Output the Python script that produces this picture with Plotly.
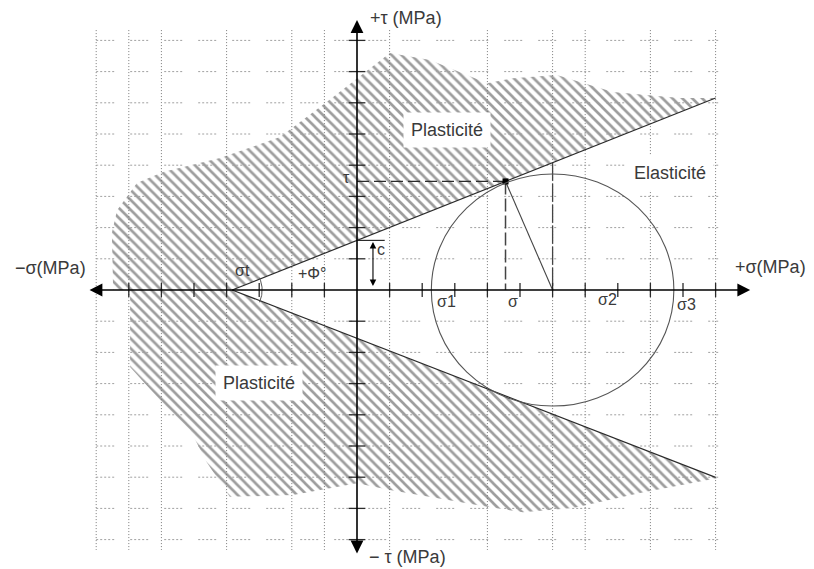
import numpy as np
import plotly.graph_objects as go

# ---------------- data (in diagram units: 1 unit = one tick) ----------------
sigma_t = -3.83          # tensile strength (intercept on sigma axis)
cohesion = 1.59          # c (intercept on tau axis)
slope_up = 0.415         # tan(phi) upper envelope
slope_dn = -0.405        # lower envelope
env_end = 11.0           # right end of envelope lines
circle_center = 6.0
circle_radius = 3.72

x_ticks = [-7, -6, -5, -4, -3, -2, -1, 1, 2, 3, 4, 5, 6, 7, 8, 9, 10, 11]
y_ticks = [-8, -7, -6, -5, -4, -3, -2, -1, 1, 2, 3, 4, 5, 6, 7, 8]
x_grid = [-8, -7, -6, -4, -2, -1, 1, 4, 6, 7, 9, 11]
y_grid = [-8, -7, -6, -5, -4, -3, -2, -1, 1, 2, 3, 4, 5, 6, 7, 8]

upper_x = [-7.48, -3.83, 10.98, 9.91, 7.85, 6.13, 4.79, 3.99, 2.24, 1.01, -0.92, -2.36, -4.20, -5.95, -6.75, -7.36, -7.52, -7.48]
upper_y = [0.0, 0.0, 6.15, 6.15, 6.35, 6.89, 6.79, 6.63, 7.37, 7.60, 6.03, 4.90, 4.23, 3.78, 3.43, 2.56, 1.83, 0.0]
lower_x = [-7.06, -3.83, 11.04, 8.68, 6.63, 5.09, 4.08, 1.01, 0.0, -1.96, -3.90, -4.60, -5.12, -6.04, -6.96, -6.96, -7.06]
lower_y = [0.0, 0.0, -6.03, -6.51, -6.99, -7.12, -6.96, -6.41, -6.19, -6.57, -6.63, -5.54, -4.49, -3.53, -2.47, -0.16, 0.0]

region_labels = ["Plasticité", "Plasticité", "Elasticité"]
region_lx = [2.76, -3.01, 9.60]
region_ly = [5.13, -2.98, 3.75]

sym_labels = ["σt", "+Φ°", "τ", "c", "σ1", "σ", "σ2", "σ3"]
sym_lx = [-3.50, -1.35, -0.33, 0.74, 2.76, 4.79, 7.67, 10.12]
sym_ly = [0.64, 0.52, 3.62, 1.31, -0.38, -0.38, -0.32, -0.45]

axis_labels = ["+τ (MPa)", "− τ (MPa)", "−σ(MPa)", "+σ(MPa)"]
axis_lx = [1.50, 1.56, -9.39, 12.68]
axis_ly = [8.72, -8.56, 0.71, 0.74]

# ---------------- scales ----------------
PXX, PXY = 32.6, 31.2          # px per unit
PAGE_MARGIN = 8                # default body margin of the page
X0, Y0 = 357 - PAGE_MARGIN, 290 - PAGE_MARGIN   # origin inside the figure
W, H = 814 - PAGE_MARGIN, 569 - PAGE_MARGIN
xr = [-X0 / PXX, (W - X0) / PXX]
yr = [(Y0 - H) / PXY, Y0 / PXY]

INK = "#2b2b2b"
TXT = "#3a3a3a"
FONT = "Arial, Liberation Sans, sans-serif"

fig = go.Figure()

# hatched regions
for xs, ys in [(upper_x, upper_y), (lower_x, lower_y)]:
    fig.add_trace(go.Scatter(
        x=xs, y=ys, mode="lines", fill="toself",
        line=dict(width=0, color="rgba(0,0,0,0)"),
        fillcolor="rgba(0,0,0,0)",
        fillpattern=dict(shape="\\", fgcolor="#3c3c3c", bgcolor="white",
                         size=7, solidity=0.38),
        hoverinfo="skip", showlegend=False))

# grid
for gx in x_grid:
    fig.add_trace(go.Scatter(x=[gx, gx], y=[8.33, -8.33], mode="lines",
                             line=dict(color="#7a7a7a", width=1, dash="1px,2px"),
                             hoverinfo="skip", showlegend=False))
for gy in y_grid:
    fig.add_trace(go.Scatter(x=[-8, 11.1], y=[gy, gy], mode="lines",
                             line=dict(color="#a0a0a0", width=1,
                                       dash="2px,2px,2px,2px,2px,2px,2px,2px,2px,16px"),
                             hoverinfo="skip", showlegend=False))

# Coulomb envelope lines
fig.add_trace(go.Scatter(x=[sigma_t, env_end], y=[0, slope_up * (env_end - sigma_t)],
                         mode="lines", line=dict(color=INK, width=1.2),
                         hoverinfo="skip", showlegend=False))
fig.add_trace(go.Scatter(x=[sigma_t, env_end], y=[0, slope_dn * (env_end - sigma_t)],
                         mode="lines", line=dict(color=INK, width=1.2),
                         hoverinfo="skip", showlegend=False))

# Mohr circle
fig.add_shape(type="circle", xref="x", yref="y",
              x0=circle_center - circle_radius, x1=circle_center + circle_radius,
              y0=-circle_radius, y1=circle_radius,
              line=dict(color="#555555", width=1.1))

# tangent point (foot of perpendicular from the centre to the upper envelope)
b = slope_up * (-sigma_t)
tx = (circle_center + slope_up * (0 - b)) / (1 + slope_up ** 2)
ty = slope_up * tx + b

fig.add_trace(go.Scatter(x=[0, tx], y=[ty, ty], mode="lines",
                         line=dict(color=INK, width=1.3, dash="12px,5px"),
                         hoverinfo="skip", showlegend=False))
fig.add_trace(go.Scatter(x=[tx, tx], y=[ty, 0], mode="lines",
                         line=dict(color="#444", width=1.5, dash="13px,4px"),
                         hoverinfo="skip", showlegend=False))
fig.add_trace(go.Scatter(x=[tx, circle_center], y=[ty, 0], mode="lines",
                         line=dict(color="#444", width=1.1),
                         hoverinfo="skip", showlegend=False))
top_c = slope_up * circle_center + b
fig.add_trace(go.Scatter(x=[circle_center, circle_center], y=[top_c, 0], mode="lines",
                         line=dict(color="#444", width=1.3, dash="18px,3px"),
                         hoverinfo="skip", showlegend=False))
fig.add_trace(go.Scatter(x=[tx], y=[ty], mode="markers",
                         marker=dict(symbol="square", size=6, color="black"),
                         hoverinfo="skip", showlegend=False))

# angle arc at sigma_t
th = np.linspace(-0.42, 0.42, 30)
fig.add_trace(go.Scatter(x=sigma_t + 30 * np.cos(th) / PXX, y=30 * np.sin(th) / PXY,
                         mode="lines", line=dict(color="#555", width=1),
                         hoverinfo="skip", showlegend=False))

# cohesion marker line
fig.add_trace(go.Scatter(x=[0, 0.85], y=[b, b], mode="lines",
                         line=dict(color=INK, width=1.2),
                         hoverinfo="skip", showlegend=False))

# ticks
fig.add_trace(go.Scatter(x=x_ticks, y=[0] * len(x_ticks), mode="markers",
                         marker=dict(symbol="line-ns", size=10,
                                     line=dict(color=INK, width=1.3)),
                         hoverinfo="skip", showlegend=False))
fig.add_trace(go.Scatter(x=[0] * len(y_ticks), y=y_ticks, mode="markers",
                         marker=dict(symbol="line-ew", size=12,
                                     line=dict(color=INK, width=1.3)),
                         hoverinfo="skip", showlegend=False))

annotations = []
# axes with arrows
annotations.append(dict(x=12.06, y=0, ax=-8.25, ay=0, xref="x", yref="y", axref="x", ayref="y",
                        text="", showarrow=True, arrowhead=2, startarrowhead=2,
                        arrowside="end+start", arrowwidth=1.6, arrowsize=1.6,
                        startarrowsize=1.6, arrowcolor="black"))
annotations.append(dict(x=0, y=8.65, ax=0, ay=-8.49, xref="x", yref="y", axref="x", ayref="y",
                        text="", showarrow=True, arrowhead=2, startarrowhead=2,
                        arrowside="end+start", arrowwidth=1.6, arrowsize=1.6,
                        startarrowsize=1.6, arrowcolor="black"))
# cohesion double arrow
annotations.append(dict(x=0.49, y=b - 0.05, ax=0.49, ay=0.08, xref="x", yref="y",
                        axref="x", ayref="y", text="", showarrow=True,
                        arrowhead=2, startarrowhead=2, arrowside="end+start",
                        arrowwidth=1.1, arrowsize=1.2, startarrowsize=1.2,
                        arrowcolor="black"))

for t, x, y in zip(region_labels, region_lx, region_ly):
    annotations.append(dict(x=x, y=y, text=t, showarrow=False, xref="x", yref="y",
                            font=dict(family=FONT, size=18, color=TXT),
                            bgcolor="white", borderpad=7))
for t, x, y in zip(sym_labels, sym_lx, sym_ly):
    annotations.append(dict(x=x, y=y, text=t, showarrow=False, xref="x", yref="y",
                            font=dict(family=FONT, size=16, color=TXT)))
for t, x, y in zip(axis_labels, axis_lx, axis_ly):
    annotations.append(dict(x=x, y=y, text=t, showarrow=False, xref="x", yref="y",
                            font=dict(family=FONT, size=18, color=TXT)))

fig.update_layout(
    width=W, height=H, margin=dict(l=0, r=0, t=0, b=0),
    paper_bgcolor="white", plot_bgcolor="white",
    xaxis=dict(range=xr, visible=False, fixedrange=True),
    yaxis=dict(range=yr, visible=False, fixedrange=True),
    annotations=annotations, showlegend=False,
)

fig.write_html("out.html")
